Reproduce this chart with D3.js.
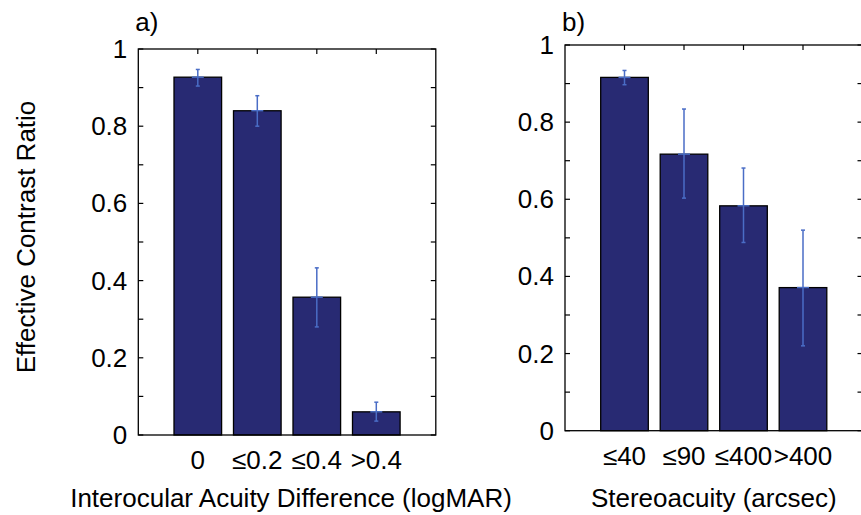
<!DOCTYPE html>
<html>
<head>
<meta charset="utf-8">
<script src="https://cdn.jsdelivr.net/npm/d3@7"></script>
<style>
  body { margin: 0; background: #fff; }
  svg { display: block; }
  text { font-family: "Liberation Sans", Arial, sans-serif; fill: #000; }
</style>
</head>
<body>
<svg id="chart" width="861" height="515"></svg>
<script>
// ---- data ----
const catsA = ["0", "\u22640.2", "\u22640.4", ">0.4"];
const valsA = [0.927, 0.840, 0.357, 0.060];
const errHiA = [0.947, 0.879, 0.433, 0.085];
const errLoA = [0.904, 0.800, 0.280, 0.036];

const catsB = ["\u226440", "\u226490", "\u2264400", ">400"];
const valsB = [0.916, 0.717, 0.583, 0.371];
const errHiB = [0.934, 0.834, 0.681, 0.520];
const errLoB = [0.897, 0.603, 0.488, 0.220];

const yTickLabels = [0, 0.2, 0.4, 0.6, 0.8, 1];
const yMinorTicks = [0, 0.1, 0.2, 0.3, 0.4, 0.5, 0.6, 0.7, 0.8, 0.9, 1];

const svg = d3.select("#chart");
const barFill = "#282a73";
const errColor = "#4a6dc6";
const fs = "26px";

function panel(cfg) {
  const { left, top, bottom, cats, vals, hi, lo, letter, xlabel, xlabelShift } = cfg;
  const step = 59.5;
  const x = d3.scaleLinear().domain([0, 5]).range([left, left + 5 * step]);
  const y = d3.scaleLinear().domain([0, 1]).range([bottom, top]);
  const g = svg.append("g");
  const right = x(5);
  const bw = (x(0.8) - x(0));

  // bars
  g.selectAll("rect.bar").data(vals).join("rect")
    .attr("class", "bar")
    .attr("x", (d, i) => x(i + 1) - bw / 2)
    .attr("width", bw)
    .attr("y", d => y(d))
    .attr("height", d => y(0) - y(d))
    .attr("fill", barFill)
    .attr("stroke", "#000")
    .attr("stroke-width", 1.3);

  // error bars
  const eb = g.selectAll("g.err").data(vals).join("g").attr("class", "err");
  eb.append("line")
    .attr("x1", (d, i) => x(i + 1)).attr("x2", (d, i) => x(i + 1))
    .attr("y1", (d, i) => y(hi[i])).attr("y2", (d, i) => y(lo[i]))
    .attr("stroke", errColor).attr("stroke-width", 1.5);
  [hi, lo].forEach(arr => {
    eb.append("line")
      .attr("x1", (d, i) => x(i + 1) - 2).attr("x2", (d, i) => x(i + 1) + 2)
      .attr("y1", (d, i) => y(arr[i])).attr("y2", (d, i) => y(arr[i]))
      .attr("stroke", errColor).attr("stroke-width", 1.5);
  });
  eb.append("line")
    .attr("x1", (d, i) => x(i + 1) - 6).attr("x2", (d, i) => x(i + 1) + 6)
    .attr("y1", d => y(d)).attr("y2", d => y(d))
    .attr("stroke", errColor).attr("stroke-width", 1.5);

  // box
  g.append("rect")
    .attr("x", left).attr("y", top)
    .attr("width", right - left).attr("height", bottom - top)
    .attr("fill", "none").attr("stroke", "#000").attr("stroke-width", 1.3);

  // ticks: left & right (inward)
  const tl = 5;
  g.selectAll("line.yl").data(yMinorTicks).join("line")
    .attr("x1", left).attr("x2", left + tl)
    .attr("y1", d => y(d)).attr("y2", d => y(d))
    .attr("stroke", "#000").attr("stroke-width", 1.2);
  g.selectAll("line.yr").data(yMinorTicks).join("line")
    .attr("x1", right).attr("x2", right - tl)
    .attr("y1", d => y(d)).attr("y2", d => y(d))
    .attr("stroke", "#000").attr("stroke-width", 1.2);
  // top ticks at categories
  g.selectAll("line.xt").data(cats).join("line")
    .attr("x1", (d, i) => x(i + 1)).attr("x2", (d, i) => x(i + 1))
    .attr("y1", top).attr("y2", top + tl)
    .attr("stroke", "#000").attr("stroke-width", 1.2);

  // y tick labels
  g.selectAll("text.yt").data(yTickLabels).join("text")
    .attr("x", left - 11)
    .attr("y", d => y(d) + 9)
    .attr("text-anchor", "end")
    .style("font-size", fs)
    .text(d => d3.format("")(d));

  // x tick labels
  g.selectAll("text.xl").data(cats).join("text")
    .attr("x", (d, i) => x(i + 1))
    .attr("y", bottom + 34)
    .attr("text-anchor", "middle")
    .style("font-size", fs)
    .text(d => d);

  // x label
  g.append("text")
    .attr("x", (left + right) / 2 + xlabelShift)
    .attr("y", 507)
    .attr("text-anchor", "middle")
    .style("font-size", fs)
    .text(xlabel);

  // panel letter
  g.append("text")
    .attr("x", left - 3)
    .attr("y", 31)
    .style("font-size", fs)
    .text(letter);
}

panel({ left: 138.3, top: 49, bottom: 435, cats: catsA, vals: valsA, hi: errHiA, lo: errLoA,
        letter: "a)", xlabel: "Interocular Acuity Difference (logMAR)", xlabelShift: 4 });
panel({ left: 565, top: 45, bottom: 430.7, cats: catsB, vals: valsB, hi: errHiB, lo: errLoB,
        letter: "b)", xlabel: "Stereoacuity (arcsec)", xlabelShift: 0 });

// y axis label
svg.append("text")
  .attr("transform", "translate(35,237) rotate(-90)")
  .attr("text-anchor", "middle")
  .style("font-size", fs)
  .text("Effective Contrast Ratio");
</script>
</body>
</html>
